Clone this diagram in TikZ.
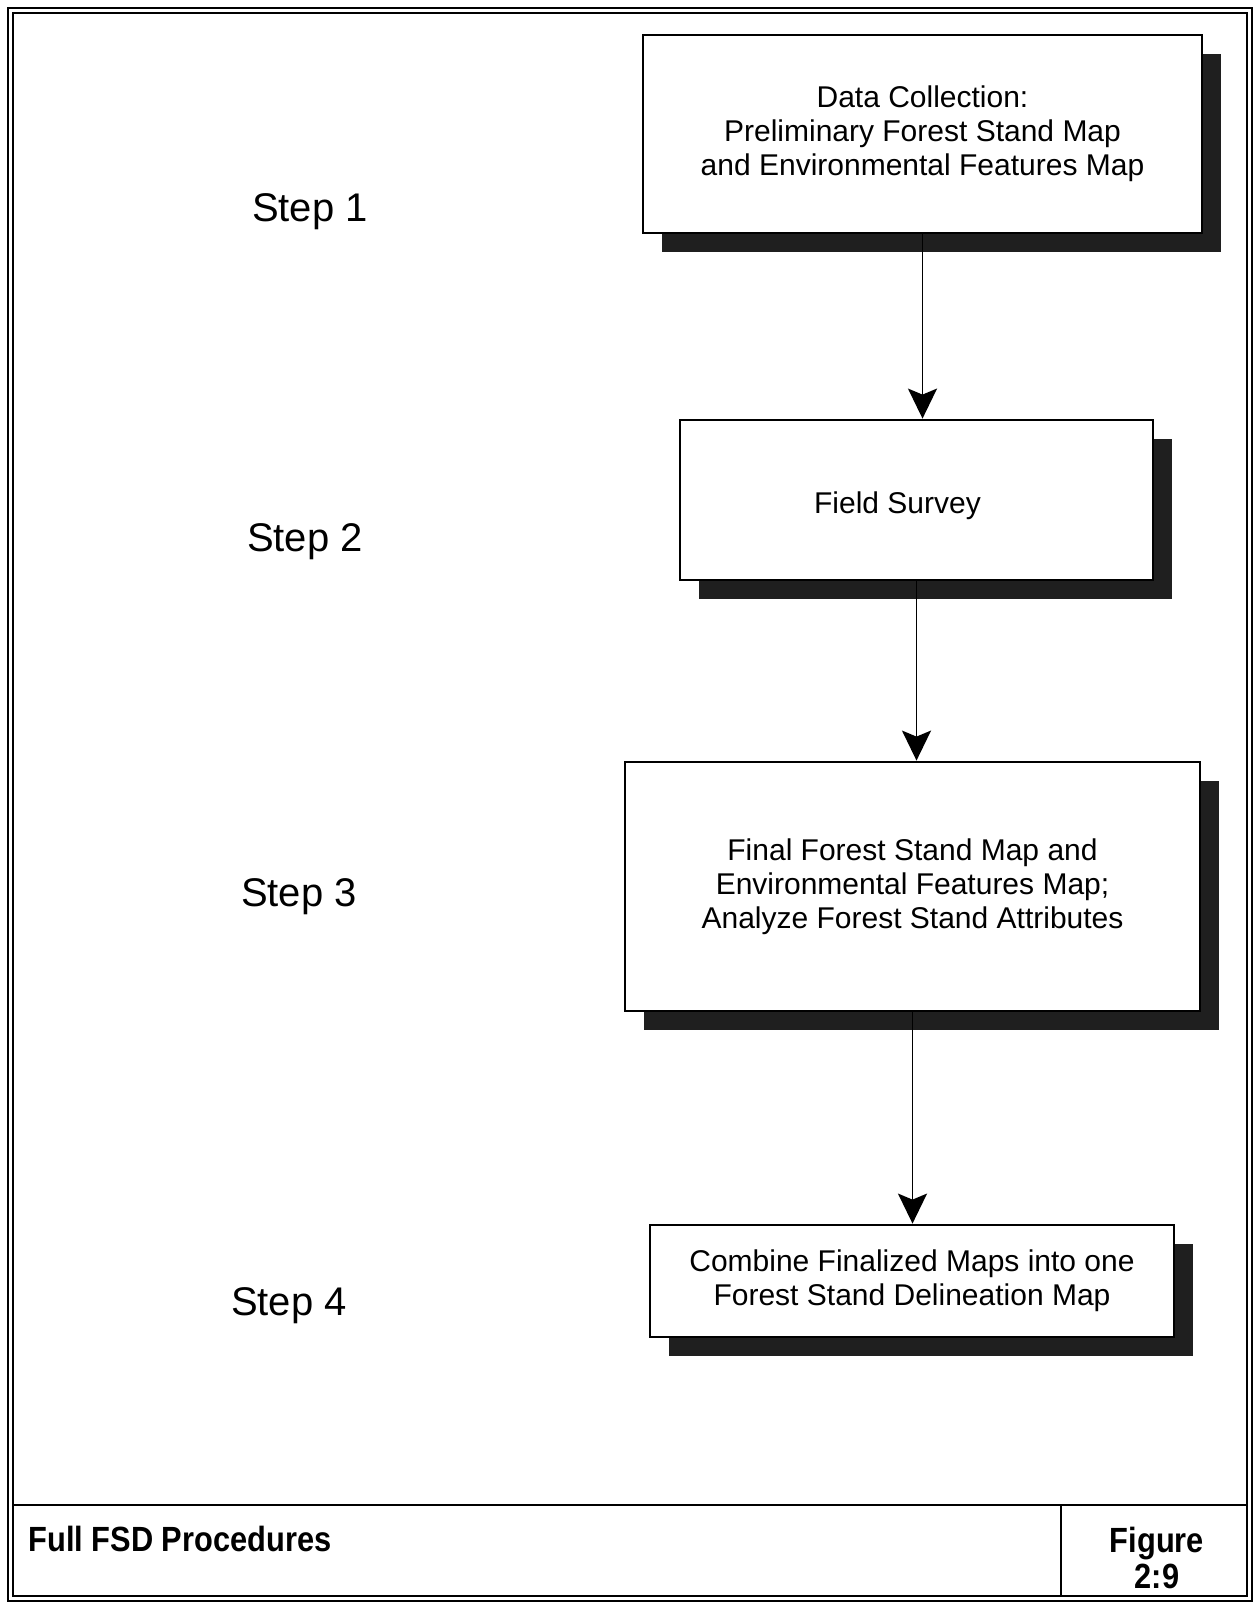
\documentclass[tikz,border=0pt]{standalone}
\usepackage{fontspec}
\setmainfont{Liberation Sans}
\newfontfamily\narrowfont[FakeStretch=0.88]{Liberation Sans}
\usetikzlibrary{arrows.meta,shadows}
\begin{document}
\begin{tikzpicture}[x=0.5pt,y=-0.5pt,
  box/.style={draw=black, line width=1.4pt, fill=white, inner sep=0pt, align=center,
    font=\fontsize{15}{17}\selectfont,
    drop shadow={shadow xshift=9.5pt, shadow yshift=-9.5pt, opacity=1, fill=black!88}},
  steplabel/.style={font=\fontsize{20}{24}\selectfont},
  titletext/.style={font=\narrowfont\bfseries\fontsize{17.5}{18}\selectfont, inner sep=0pt},
  arr/.style={line width=0.9pt, -{Stealth[length=15pt, width=14.5pt, inset=3pt]}},
  frameline/.style={line width=1.2pt}]
\useasboundingbox (0,0) rectangle (1257,1604);
\fill[white] (0,0) rectangle (1257,1604);
% frame
\draw[frameline] (8,8) rectangle (1252,1601);
\draw[frameline] (13,13) rectangle (1247,1596);
\draw[frameline] (13,1505) -- (1247,1505);
\draw[frameline] (1061,1505) -- (1061,1596);
% boxes
\node[box, minimum width=279.5pt, minimum height=99pt] (b1) at (922.5,134)
  {Data Collection:\\ Preliminary Forest Stand Map\\and Environmental Features Map};
\node[box, minimum width=236.5pt, minimum height=80pt] (b2) at (916.5,500)
  {\rule{0pt}{17pt}Field Survey\hspace*{19pt}};
\node[box, minimum width=287.5pt, minimum height=124.5pt] (b3) at (912.5,886.5)
  {Final Forest Stand Map and\\Environmental Features Map;\\Analyze Forest Stand Attributes};
\node[box, minimum width=262pt, minimum height=56pt] (b4) at (912,1281)
  {Combine Finalized Maps into one\\Forest Stand Delineation Map};
% arrows
\draw[arr] (b1.south) -- (b1.south |- b2.north);
\draw[arr] (b2.south) -- (b2.south |- b3.north);
\draw[arr] (b3.south) -- (b3.south |- b4.north);
% step labels
\node[steplabel] (s1) at (310,212) {Step 1};
\node[steplabel] (s2) at (305,542) {Step 2};
\node[steplabel] (s3) at (299,897) {Step 3};
\node[steplabel] (s4) at (289,1306) {Step 4};
% title bar
\node[titletext, anchor=west] (title) at (28,1539) {Full FSD Procedures};
\node[titletext, align=center] (fig) at (1157,1558) {Figure\\2:9};
\end{tikzpicture}
\end{document}
